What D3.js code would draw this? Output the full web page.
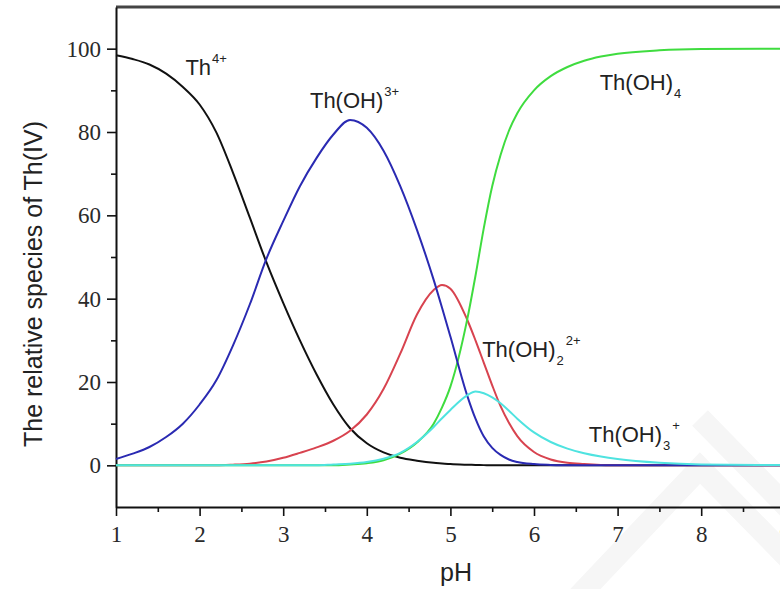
<!DOCTYPE html>
<html>
<head>
<meta charset="utf-8">
<script src="https://cdn.jsdelivr.net/npm/d3@7"></script>
<style>
    body { margin: 0; background: #fff; }
    #chart-area { width: 780px; height: 589px; overflow: hidden; }
    .axis .domain { stroke: #111; stroke-width: 2; }
    .axis .tick line { stroke: #111; stroke-width: 1.6; }
    .axis .tick text { font-family: "Liberation Serif", "Times New Roman", serif; font-size: 23px; fill: #2a2a2a; }
    .axis-title { font-family: "Liberation Sans", Arial, sans-serif; font-size: 25px; fill: #222; }
    .species-label { font-family: "Liberation Sans", Arial, sans-serif; font-size: 22px; fill: #222; }
    .species-label .script { font-size: 13px; }
    .species-line { fill: none; stroke-width: 2; stroke-linejoin: round; }
    .watermark { fill: none; stroke: #f6f6f6; stroke-width: 22; }
</style>
</head>
<body>
<div id="chart-area"></div>
<script>

let pH = [1.0, 1.2, 1.4, 1.6, 1.8, 2.0, 2.2, 2.4, 2.6, 2.8, 3.0, 3.2, 3.4, 3.6, 3.8, 4.0, 4.2, 4.4, 4.6, 4.8,
    4.9, 5.0, 5.2, 5.3, 5.4, 5.5, 5.6, 5.7, 5.8, 6.0, 6.2, 6.4, 6.6, 6.8, 7.0, 7.5, 8.0, 9.0, 10.0];

// relative species (%) for each Th(IV) form
let th4 = [98.4, 97.5, 96.2, 94.0, 90.8, 86.6, 79.9, 70.2, 59.5, 48.7, 39.0, 30.0, 21.8, 14.6, 8.9, 5.3, 3.1, 1.8, 1.1, 0.6,
    0.45, 0.3, 0.15, 0.1, 0.05, 0, 0, 0, 0, 0, 0, 0, 0, 0, 0, 0, 0, 0, 0];
let thOH = [1.5, 2.8, 4.4, 6.8, 10.0, 14.6, 20.4, 28.8, 38.6, 49.6, 58.6, 67.0, 73.8, 79.4, 82.9, 81.0, 75.5, 67.0, 56.5, 44.5,
    37.8, 30.9, 16.8, 11.2, 6.9, 4.2, 2.5, 1.4, 0.8, 0.3, 0.1, 0, 0, 0, 0, 0, 0, 0, 0];
let thOH2 = [0, 0, 0, 0, 0, 0, 0, 0.15, 0.4, 0.9, 1.8, 3.0, 4.3, 5.9, 8.3, 12.2, 18.3, 26.8, 36.2, 42.1,
    43.3, 42.4, 35.0, 30.0, 24.6, 19.2, 14.2, 10.2, 7.0, 3.2, 1.4, 0.6, 0.3, 0.1, 0, 0, 0, 0, 0];
let thOH4 = [0, 0, 0, 0, 0, 0, 0, 0, 0, 0, 0, 0, 0, 0, 0.2, 0.5, 1.2, 2.8, 5.5, 10.0,
    13.9, 18.9, 34.9, 45.5, 57.0, 67.0, 74.5, 80.3, 84.5, 90.0, 93.4, 95.6, 97.1, 98.1, 98.8, 99.6, 99.9, 100, 100];
let thOH3 = [0, 0, 0, 0, 0, 0, 0, 0, 0, 0, 0, 0, 0, 0.2, 0.4, 0.8, 1.6, 3.0, 5.6, 9.2,
    11.3, 13.3, 16.8, 17.7, 17.3, 16.3, 14.9, 13.1, 11.2, 7.9, 5.6, 4.0, 2.9, 2.1, 1.5, 0.6, 0.2, 0.05, 0];

// tick values
let xMajor = [1, 2, 3, 4, 5, 6, 7, 8, 9, 10];
let xMinor = [1.5, 2.5, 3.5, 4.5, 5.5, 6.5, 7.5, 8.5, 9.5];
let yMajor = [0, 20, 40, 60, 80, 100];
let yMinor = [10, 30, 50, 70, 90];

// species label texts: main part, subscript, superscript
let labelMain = ["Th", "Th(OH)", "Th(OH)", "Th(OH)", "Th(OH)"];
let labelSub = ["", "", "2", "3", "4"];
let labelSup = ["4+", "3+", "2+", "+", ""];

class speciesChart {

    constructor(parentElement) {
        this.parentElement = parentElement;

        // drawing order and colours
        this.series = [
            {values: th4, color: "#111111"},
            {values: thOH2, color: "#d8434f"},
            {values: thOH4, color: "#3fdc3f"},
            {values: thOH, color: "#2a2ab2"},
            {values: thOH3, color: "#4fe3e0"}
        ];

        // where each label's baseline starts, in data units (pH, %)
        this.labelAt = [[1.83, 93.7], [3.32, 85.7], [5.38, 26.1], [6.655, 5.7], [6.785, 90.1]];

        this.initVis();
    }

    initVis() {
        let vis = this;

        vis.margin = {top: 7, left: 116};
        vis.width = 9 * 83.6;
        vis.height = 500;

        vis.root = d3.select("#" + vis.parentElement).append("svg")
            .attr("width", 780)
            .attr("height", 589);

        // faint watermark bands behind everything
        vis.root.append("path")
            .attr("class", "watermark")
            .attr("d", "M575,600 L700,468 L795,565");
        vis.root.append("path")
            .attr("class", "watermark")
            .attr("d", "M700,418 L795,515");

        vis.svg = vis.root.append("g")
            .attr("transform", `translate(${vis.margin.left}, ${vis.margin.top})`);

        vis.x = d3.scaleLinear()
            .domain([1, 10])
            .range([0, vis.width]);

        vis.y = d3.scaleLinear()
            .domain([-10, 110])
            .range([vis.height, 0]);

        vis.updateVis();
    }

    updateVis() {
        let vis = this;

        // top frame line
        vis.svg.append("line")
            .attr("x1", vis.x(1))
            .attr("x2", vis.x(10))
            .attr("y1", vis.y(110))
            .attr("y2", vis.y(110))
            .attr("stroke", "#444")
            .attr("stroke-width", 3);

        // minor ticks first, then major axes
        vis.svg.append("g")
            .attr("class", "axis")
            .attr("transform", `translate(0, ${vis.height})`)
            .call(d3.axisBottom(vis.x).tickValues(xMinor).tickSize(5).tickSizeOuter(0).tickFormat(""))
            .select(".domain").remove();

        vis.svg.append("g")
            .attr("class", "axis")
            .call(d3.axisLeft(vis.y).tickValues(yMinor).tickSize(5).tickSizeOuter(0).tickFormat(""))
            .select(".domain").remove();

        vis.svg.append("g")
            .attr("class", "axis x-axis")
            .attr("transform", `translate(0, ${vis.height})`)
            .call(d3.axisBottom(vis.x).tickValues(xMajor).tickSize(9).tickSizeOuter(0).tickPadding(10)
                .tickFormat(d3.format("d")));

        vis.svg.append("g")
            .attr("class", "axis y-axis")
            .call(d3.axisLeft(vis.y).tickValues(yMajor).tickSize(9).tickSizeOuter(0).tickPadding(6));

        // curves
        let line = d3.line()
            .x((d, i) => vis.x(pH[i]))
            .y(d => vis.y(d))
            .curve(d3.curveMonotoneX);

        vis.svg.selectAll(".species-line")
            .data(vis.series)
            .enter()
            .append("path")
            .attr("class", "species-line")
            .attr("stroke", d => d.color)
            .attr("d", d => line(d.values));

        // species labels with sub/superscripts
        labelMain.forEach((txt, i) => {
            let t = vis.svg.append("text")
                .attr("class", "species-label")
                .attr("x", vis.x(vis.labelAt[i][0]))
                .attr("y", vis.y(vis.labelAt[i][1]))
                .text(txt);

            let shift = 0;
            if (labelSub[i] !== "") {
                t.append("tspan").attr("class", "script").attr("dx", 1).attr("dy", 8).text(labelSub[i]);
                shift = 8;
            }
            if (labelSup[i] !== "") {
                t.append("tspan").attr("class", "script")
                    .attr("dx", shift ? 2 : 1)
                    .attr("dy", -12 - shift)
                    .text(labelSup[i]);
            }
        });

        // axis titles
        vis.root.append("text")
            .attr("class", "axis-title")
            .attr("x", 456)
            .attr("y", 581)
            .attr("text-anchor", "middle")
            .text("pH");

        vis.root.append("text")
            .attr("class", "axis-title")
            .attr("transform", "translate(42, 284) rotate(-90)")
            .attr("text-anchor", "middle")
            .text("The relative species of Th(IV)");
    }
}

new speciesChart("chart-area");

</script>
</body>
</html>
